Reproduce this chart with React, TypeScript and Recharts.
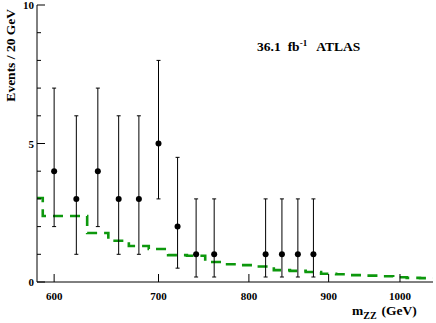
import React from 'react';
import { ComposedChart, XAxis, YAxis, Line, Scatter, ErrorBar } from 'recharts';

// Observed data (m_ZZ bin centres, events)
const dataMass = [600, 620, 640, 660, 680, 700, 720, 740, 760, 820, 840, 860, 880];
const dataCounts = [4, 3, 4, 3, 3, 5, 2, 1, 1, 1, 1, 1, 1];
const errLow = [2, 2, 2, 2, 2, 2, 1.5, 0.82, 0.82, 0.82, 0.82, 0.82, 0.82];
const errHigh = [3, 3, 3, 3, 3, 3, 2.5, 2, 2, 2, 2, 2, 2];

// Background expectation histogram (left bin edges, value)
const bkgEdges = [585, 590, 610, 630, 650, 670, 690, 710, 730, 750, 770, 790, 810, 830, 850, 870, 890, 910, 930, 950, 970, 990, 1010, 1030, 1050];
const bkgValues = [3.03, 2.38, 2.38, 1.77, 1.49, 1.3, 1.19, 0.97, 0.95, 0.72, 0.64, 0.61, 0.56, 0.43, 0.4, 0.36, 0.3, 0.28, 0.25, 0.23, 0.21, 0.17, 0.15, 0.14, 0.14];

const xTicks = [600, 700, 800, 900, 1000];
const yTicks = [0, 1, 2, 3, 4, 5, 6, 7, 8, 9, 10];
const yLabels = [0, 5, 10];

const points = dataMass.map((m, i) => ({ x: m, y: dataCounts[i], err: [errLow[i], errHigh[i]] }));
const bkg = bkgEdges.map((e, i) => ({ x: e, b: bkgValues[i] }));

const FONT = '"Liberation Serif", "Times New Roman", serif';

const BottomTick = (props: any) => {
  const { x, y, payload } = props;
  return (
    <g>
      <line x1={x} y1={y} x2={x} y2={y - 8} stroke="#000" strokeWidth={1} />
      <text x={x} y={y + 18} textAnchor="middle" fontFamily={FONT} fontWeight="bold" fontSize={11} fill="#000">
        {payload.value}
      </text>
    </g>
  );
};

const TopTick = (props: any) => {
  const { x, y } = props;
  return <line x1={x} y1={y} x2={x} y2={y + 8} stroke="#000" strokeWidth={1} />;
};

const LeftTick = (props: any) => {
  const { x, y, payload } = props;
  const major = yLabels.includes(payload.value);
  return (
    <g>
      <line x1={x} y1={y} x2={x + (major ? 8 : 4)} y2={y} stroke="#000" strokeWidth={1} />
      {major && (
        <text x={x - 3} y={y + 4} textAnchor="end" fontFamily={FONT} fontWeight="bold" fontSize={11} fill="#000">
          {payload.value}
        </text>
      )}
    </g>
  );
};

const RightTick = (props: any) => {
  const { x, y, payload } = props;
  const major = yLabels.includes(payload.value);
  return <line x1={x} y1={y} x2={x - (major ? 8 : 4)} y2={y} stroke="#000" strokeWidth={1} />;
};

const Dot = (props: any) => {
  const { cx, cy } = props;
  return <circle cx={cx} cy={cy} r={3} fill="#000" />;
};

export default function App() {
  return (
    <div style={{ position: 'absolute', left: 0, top: 0, width: 436, height: 323, background: '#fff' }}>
      <ComposedChart width={436} height={323} margin={{ top: 5, right: 3, bottom: 0, left: 0 }}>
        <XAxis
          xAxisId="b"
          type="number"
          dataKey="x"
          scale="log"
          domain={[585, 1050]}
          allowDataOverflow
          ticks={xTicks}
          interval={0}
          height={41}
          tickSize={0}
          tickMargin={0}
          tickLine={false}
          axisLine={{ stroke: '#000', strokeWidth: 1 }}
          tick={<BottomTick />}
        />
        <XAxis
          xAxisId="t"
          orientation="top"
          type="number"
          dataKey="x"
          scale="log"
          domain={[585, 1050]}
          allowDataOverflow
          ticks={xTicks}
          interval={0}
          height={0}
          tickSize={0}
          tickMargin={0}
          tickLine={false}
          axisLine={{ stroke: '#000', strokeWidth: 1 }}
          tick={<TopTick />}
        />
        <YAxis
          yAxisId="l"
          type="number"
          domain={[0, 10]}
          allowDataOverflow
          ticks={yTicks}
          interval={0}
          width={37}
          tickSize={0}
          tickMargin={0}
          tickLine={false}
          axisLine={{ stroke: '#000', strokeWidth: 1 }}
          tick={<LeftTick />}
        />
        <YAxis
          yAxisId="r"
          orientation="right"
          type="number"
          domain={[0, 10]}
          allowDataOverflow
          ticks={yTicks}
          interval={0}
          width={0}
          tickSize={0}
          tickMargin={0}
          tickLine={false}
          axisLine={{ stroke: '#000', strokeWidth: 1 }}
          tick={<RightTick />}
        />
        <Line
          xAxisId="b"
          yAxisId="l"
          data={bkg}
          dataKey="b"
          type="stepAfter"
          stroke="#0d980d"
          strokeWidth={2.6}
          strokeDasharray="10 7"
          dot={false}
          activeDot={false}
          isAnimationActive={false}
        />
        <Scatter
          xAxisId="b"
          yAxisId="l"
          data={points}
          dataKey="y"
          shape={<Dot />}
          isAnimationActive={false}
        >
          <ErrorBar dataKey="err" direction="y" width={2} stroke="#000" strokeWidth={1} isAnimationActive={false} />
        </Scatter>
      </ComposedChart>
      <svg width={436} height={323} style={{ position: 'absolute', left: 0, top: 0, pointerEvents: 'none' }}>
        <text
          x={15}
          y={9}
          transform="rotate(-90, 15, 9)"
          textAnchor="end"
          fontFamily={FONT}
          fontWeight="bold"
          fontSize={13.5}
          fill="#000"
        >
          Events / 20 GeV
        </text>
        <text x={257} y={51} fontFamily={FONT} fontWeight="bold" fontSize={13.5} fill="#000">
          36.1
          <tspan dx={7}>fb</tspan>
          <tspan dy={-5} fontSize={9}>-1</tspan>
          <tspan dy={5} dx={9}>ATLAS</tspan>
        </text>
        <text x={352} y={315} fontFamily={FONT} fontWeight="bold" fontSize={13.5} fill="#000">
          m
          <tspan dy={4} fontSize={10}>ZZ</tspan>
          <tspan dy={-4} dx={5}>(GeV)</tspan>
        </text>
      </svg>
    </div>
  );
}
